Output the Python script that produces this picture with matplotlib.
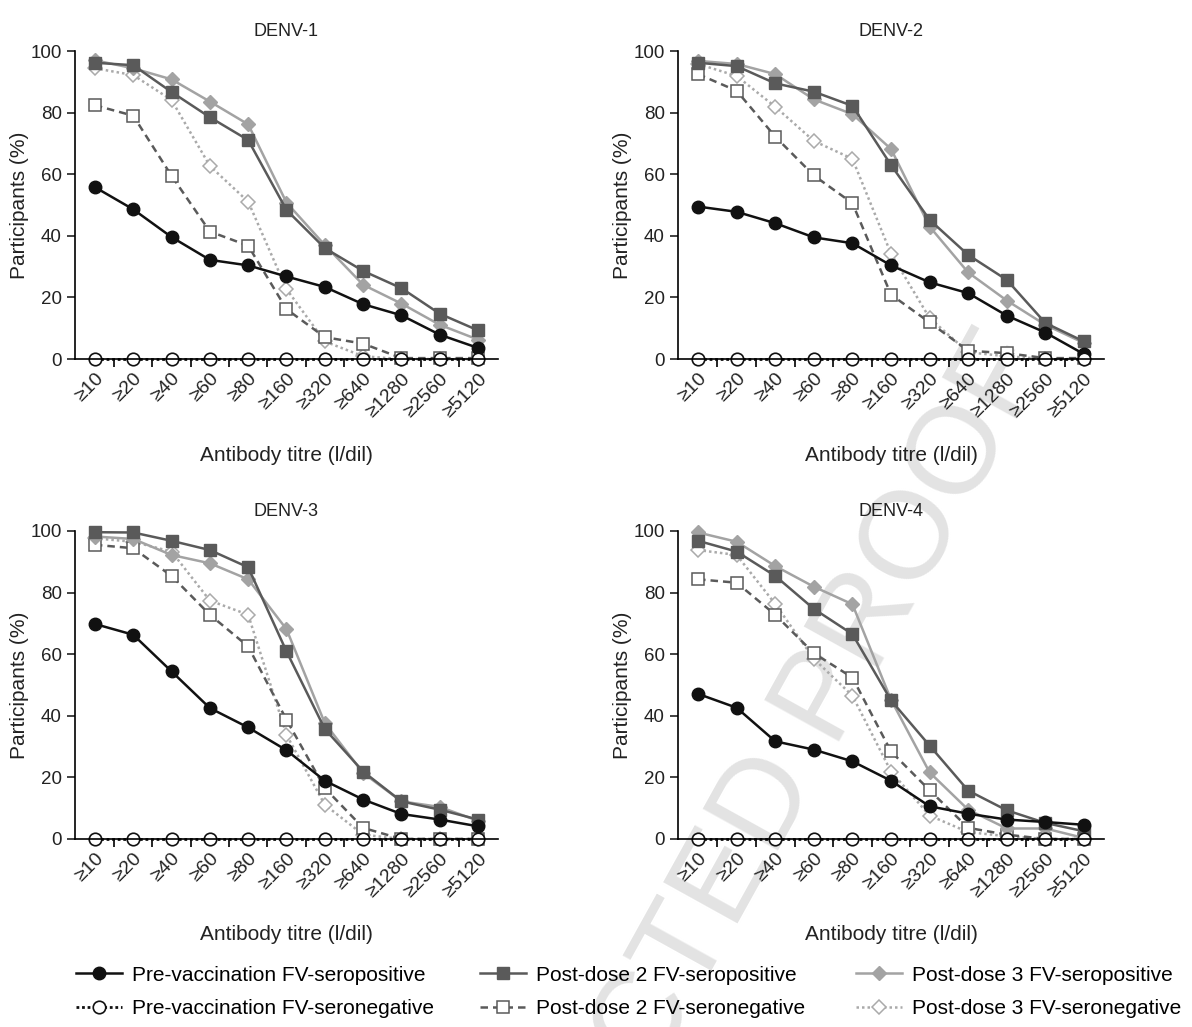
import numpy as np
import matplotlib
matplotlib.use("Agg")
import matplotlib.pyplot as plt
from matplotlib.ticker import FixedLocator

plt.rcParams['font.family'] = ['Liberation Sans', 'DejaVu Sans']

titres = ["≥10", "≥20", "≥40", "≥60", "≥80", "≥160", "≥320", "≥640", "≥1280", "≥2560", "≥5120"]
panels = ["DENV-1", "DENV-2", "DENV-3", "DENV-4"]

# pre-vaccination FV-seropositive
pre_pos = [
    [55.8, 48.6, 39.6, 32.2, 30.4, 26.8, 23.4, 17.8, 14.2, 7.9, 3.6],
    [49.5, 47.8, 44.1, 39.5, 37.6, 30.4, 24.9, 21.4, 14.1, 8.6, 1.6],
    [69.8, 66.3, 54.4, 42.5, 36.2, 28.8, 18.9, 12.8, 8.1, 6.3, 4.1],
    [47.1, 42.6, 31.7, 29.0, 25.2, 18.9, 10.6, 8.2, 6.3, 5.5, 4.6],
]
# pre-vaccination FV-seronegative
pre_neg = [
    [0, 0, 0, 0, 0, 0, 0, 0, 0, 0, 0],
    [0, 0, 0, 0, 0, 0, 0, 0, 0, 0, 0],
    [0, 0, 0, 0, 0, 0, 0, 0, 0, 0, 0],
    [0, 0, 0, 0, 0, 0, 0, 0, 0, 0, 0],
]
# post-dose 2 FV-seropositive
pd2_pos = [
    [96.2, 95.4, 86.7, 78.5, 71.1, 48.4, 36.0, 28.6, 23.0, 14.7, 9.3],
    [96.2, 95.1, 89.5, 86.8, 82.2, 63.0, 45.2, 33.8, 25.7, 11.7, 5.7],
    [99.6, 99.5, 96.8, 93.8, 88.2, 60.9, 35.7, 21.9, 12.2, 9.5, 6.3],
    [96.8, 93.3, 85.4, 74.7, 66.5, 45.0, 30.3, 15.7, 9.3, 5.2, 2.5],
]
# post-dose 2 FV-seronegative
pd2_neg = [
    [82.4, 79.0, 59.5, 41.4, 36.8, 16.2, 7.1, 5.0, 0.3, 0.3, 0.3],
    [92.5, 87.1, 72.2, 59.6, 50.6, 20.9, 11.9, 2.7, 1.9, 0.3, 0.3],
    [95.5, 94.4, 85.4, 72.8, 62.5, 38.7, 16.5, 3.6, 0, 0, 0],
    [84.3, 83.2, 72.8, 60.3, 52.4, 28.4, 15.8, 3.6, 1.4, 0, 0],
]
# post-dose 3 FV-seropositive
pd3_pos = [
    [97.0, 94.4, 90.8, 83.6, 76.2, 50.8, 37.0, 24.1, 18.0, 11.1, 6.3],
    [96.8, 95.8, 92.5, 84.3, 79.5, 68.2, 43.0, 28.1, 19.0, 11.1, 5.2],
    [98.2, 97.4, 92.2, 89.5, 84.3, 68.1, 37.6, 21.4, 12.2, 10.4, 5.9],
    [99.5, 96.5, 88.6, 81.9, 76.2, 45.2, 21.6, 9.5, 3.4, 3.4, 0.3],
]
# post-dose 3 FV-seronegative
pd3_neg = [
    [94.4, 92.2, 84.1, 62.7, 51.1, 22.7, 5.7, 0.9, 0, 0, 0],
    [95.8, 91.9, 81.9, 70.8, 65.0, 34.2, 13.3, 2.2, 0.9, 0, 0],
    [97.6, 96.5, 93.3, 77.4, 72.8, 33.8, 11.1, 1.4, 0, 0, 0],
    [93.8, 92.2, 76.3, 58.5, 46.5, 21.9, 7.6, 2.2, 0.9, 0, 0],
]

labels = {
    "pre_pos": "Pre-vaccination FV-seropositive",
    "pre_neg": "Pre-vaccination FV-seronegative",
    "pd2_pos": "Post-dose 2 FV-seropositive",
    "pd2_neg": "Post-dose 2 FV-seronegative",
    "pd3_pos": "Post-dose 3 FV-seropositive",
    "pd3_neg": "Post-dose 3 FV-seronegative",
}

styles = {
    "pre_pos": dict(color="#111111", ls="-", lw=1.8, marker="o", ms=9, mfc="#111111", mec="#111111"),
    "pre_neg": dict(color="#111111", ls=(0, (1, 1)), lw=2.0, marker="o", ms=9, mfc="white", mec="#111111", mew=1.2),
    "pd2_pos": dict(color="#5a5a5a", ls="-", lw=1.8, marker="s", ms=9, mfc="#5a5a5a", mec="#5a5a5a"),
    "pd2_neg": dict(color="#5a5a5a", ls=(0, (3, 2)), lw=1.8, marker="s", ms=9, mfc="white", mec="#5a5a5a", mew=1.1),
    "pd3_pos": dict(color="#a3a3a3", ls="-", lw=1.8, marker="D", ms=7.5, mfc="#a3a3a3", mec="#a3a3a3"),
    "pd3_neg": dict(color="#aaaaaa", ls=(0, (1, 1.2)), lw=1.8, marker="D", ms=7.5, mfc="white", mec="#aaaaaa", mew=1.1),
}

fig = plt.figure(figsize=(11.92, 10.27), dpi=100)

# watermark (behind everything), right end of the word anchored
fig.text(1022 / 1192, 1 - 345 / 1027, "UNCORRECTED PROOF", fontsize=90, color="#e3e3e3",
         rotation=61, rotation_mode="anchor", ha="right", va="center", zorder=-1)

positions = [
    [0.0629, 0.6504, 0.3549, 0.2999],
    [0.5688, 0.6504, 0.3574, 0.2999],
    [0.0629, 0.1831, 0.3549, 0.2999],
    [0.5688, 0.1831, 0.3574, 0.2999],
]

x = np.arange(len(titres))
handles = {}
for i, name in enumerate(panels):
    ax = fig.add_axes(positions[i])
    ax.patch.set_alpha(0)
    order = [("pd3_neg", pd3_neg), ("pd2_neg", pd2_neg), ("pd3_pos", pd3_pos),
             ("pd2_pos", pd2_pos), ("pre_pos", pre_pos), ("pre_neg", pre_neg)]
    for key, data in order:
        ln, = ax.plot(x, data[i], clip_on=False, **styles[key])
        handles[key] = ln
    ax.set_xlim(-0.52, 10.52)
    ax.set_ylim(0, 100)
    ax.spines["top"].set_visible(False)
    ax.spines["right"].set_visible(False)
    ax.spines["left"].set_linewidth(1.2)
    ax.spines["bottom"].set_linewidth(1.2)
    ax.set_yticks([0, 20, 40, 60, 80, 100])
    ax.tick_params(axis="y", labelsize=13.5, length=6, width=1.2, colors="#222222")
    ax.set_xticks(x)
    ax.set_xticklabels(titres, rotation=45, ha="right", rotation_mode="anchor", fontsize=14, color="#222222")
    ax.tick_params(axis="x", which="major", length=0, pad=8)
    ax.xaxis.set_minor_locator(FixedLocator(np.arange(0.5, 10, 1.0)))
    ax.tick_params(axis="x", which="minor", length=6, width=1.2)
    ax.set_title(name, fontsize=13, pad=11, color="#222222")
    ax.set_ylabel("Participants (%)", fontsize=15, color="#222222", labelpad=1)
    ax.set_xlabel("Antibody titre (l/dil)", fontsize=15, color="#222222", labelpad=18)

# three legend columns placed at their own x positions
cols = [(76, ["pre_pos", "pre_neg"]), (480, ["pd2_pos", "pd2_neg"]), (856, ["pd3_pos", "pd3_neg"])]
for xpix, keys in cols:
    fig.legend([handles[k] for k in keys], [labels[k] for k in keys], loc="center left",
               bbox_to_anchor=(xpix / 1192, 1 - 992 / 1027), frameon=False, fontsize=15,
               handlelength=2.2, handletextpad=0.5, labelspacing=0.7,
               borderpad=0, borderaxespad=0)

fig.savefig("out.png", dpi=100)
